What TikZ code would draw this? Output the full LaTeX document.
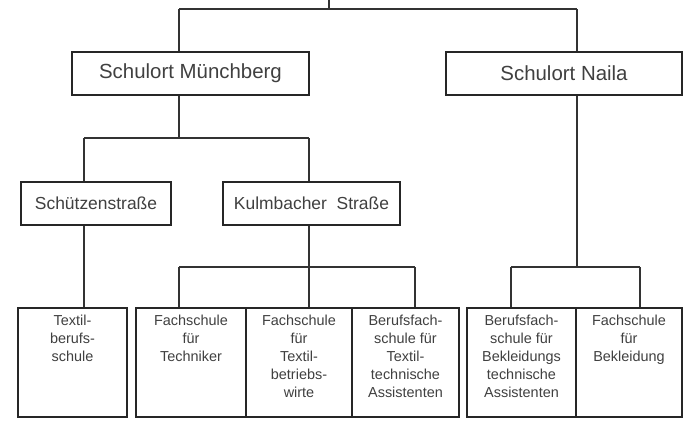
\documentclass[tikz,border=0pt]{standalone}
\usepackage{fontspec}
\setmainfont{Liberation Sans}
\begin{document}
\begin{tikzpicture}[x=1bp,y=-1bp,
  ln/.style={line width=1.3bp,draw=black!80},
  bx/.style={draw=black!85,line width=1.5bp,inner sep=0pt,fill=white},
  big/.style={font=\fontsize{20.5}{24}\selectfont,text=black!75},
  mid/.style={font=\fontsize{17.5}{20}\selectfont,text=black!75},
  small/.style={font=\fontsize{14.5}{18}\selectfont,text=black!75,align=center,anchor=north,inner sep=0pt}]
\useasboundingbox (0,0) rectangle (685,421);
% level 1
\node[bx,big,minimum width=237bp,minimum height=43bp] (mb) at (190.5,73.5) {Schulort Münchberg};
\node[bx,big,minimum width=236bp,minimum height=43bp] (nl) at (564,73.5) {Schulort Naila};
% level 2
\node[bx,mid,minimum width=150bp,minimum height=43bp] (sz) at (96,203.5) {Schützenstraße};
\node[bx,mid,minimum width=177bp,minimum height=43bp] (kb) at (311.5,203.5) {Kulmbacher\ \ Straße};
% level 3 boxes
\node[bx,minimum width=109bp,minimum height=109bp] (b1) at (72.5,362.5) {};
\node[bx,minimum width=110bp,minimum height=109bp] (b2) at (191,362.5) {};
\node[bx,minimum width=106bp,minimum height=109bp] (b3) at (299,362.5) {};
\node[bx,minimum width=107bp,minimum height=109bp] (b4) at (405.5,362.5) {};
\node[bx,minimum width=109bp,minimum height=109bp] (b5) at (521.5,362.5) {};
\node[bx,minimum width=106bp,minimum height=109bp] (b6) at (629,362.5) {};
% texts
\node[small] (t1) at (72.5,315) {Textil-\\berufs-\\schule};
\node[small] (t2) at (191,315) {Fachschule\\für\\Techniker};
\node[small] (t3) at (299,315) {Fachschule\\für\\Textil-\\betriebs-\\wirte};
\node[small] (t4) at (405.5,315) {Berufsfach-\\schule für\\Textil-\\technische\\Assistenten};
\node[small] (t5) at (521.5,315) {Berufsfach-\\schule für\\Bekleidungs\\technische\\Assistenten};
\node[small] (t6) at (629,315) {Fachschule\\für\\Bekleidung};
% connectors
\coordinate (top) at (329,0);
\coordinate (j0) at (329,9);
\coordinate (h1) at (179,9);
\coordinate (h2) at (577,9);
\draw[ln] (top) -- (j0);
\draw[ln] (h1) -- (h2);
\draw[ln] (h1) -- (h1 |- mb.north);
\draw[ln] (h2) -- (h2 |- nl.north);
% Muenchberg down
\coordinate (m0) at (179,138);
\coordinate (m1) at (84,138);
\coordinate (m2) at (309,138);
\draw[ln] (m0 |- mb.south) -- (m0);
\draw[ln] (m1) -- (m2);
\draw[ln] (m1) -- (m1 |- sz.north);
\draw[ln] (m2) -- (m2 |- kb.north);
% Schuetzen down
\draw[ln] (m1 |- sz.south) -- (m1 |- b1.north);
% Kulmbacher down
\coordinate (k0) at (309,267);
\coordinate (k1) at (179,267);
\coordinate (k2) at (415,267);
\draw[ln] (k0 |- kb.south) -- (k0);
\draw[ln] (k1) -- (k2);
\draw[ln] (k1) -- (k1 |- b2.north);
\draw[ln] (k0) -- (k0 |- b3.north);
\draw[ln] (k2) -- (k2 |- b4.north);
% Naila down
\coordinate (n0) at (577,267);
\coordinate (n1) at (511,267);
\coordinate (n2) at (640,267);
\draw[ln] (n0 |- nl.south) -- (n0);
\draw[ln] (n1) -- (n2);
\draw[ln] (n1) -- (n1 |- b5.north);
\draw[ln] (n2) -- (n2 |- b6.north);
\end{tikzpicture}
\end{document}
